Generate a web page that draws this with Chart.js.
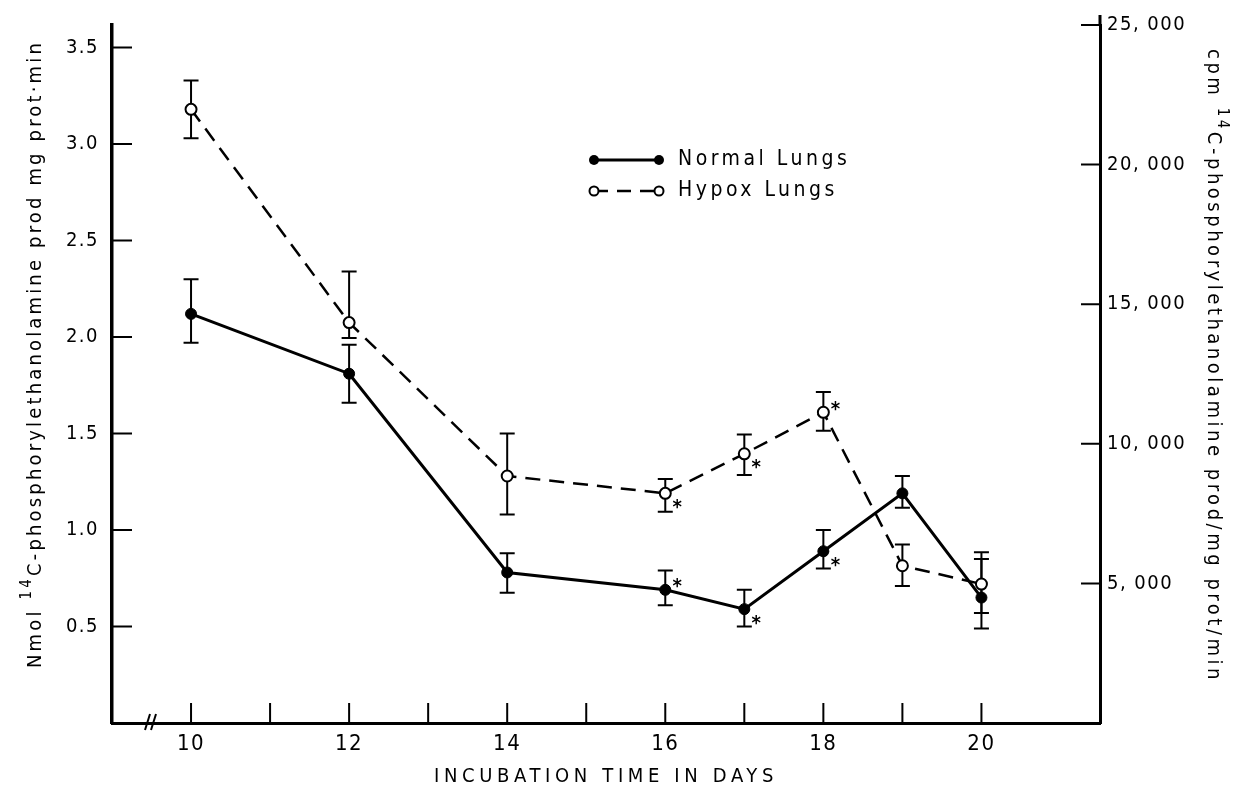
<!DOCTYPE html>
<html><head><meta charset="utf-8">
<script src="https://cdn.jsdelivr.net/npm/chart.js@4.4.1/dist/chart.umd.min.js"></script>
<style>html,body{margin:0;padding:0;background:#fff;}canvas{display:block;}</style>
</head><body>
<canvas id="c" width="1239" height="794"></canvas>
<script>
// ---------------- data ----------------
const days        = [10, 12, 14, 16, 17, 18, 19, 20];
const normalMean  = [2.12, 1.81, 0.78, 0.69, 0.59, 0.89, 1.19, 0.65];
const normalHigh  = [2.30, 1.96, 0.88, 0.79, 0.69, 1.00, 1.28, 0.85];
const normalLow   = [1.97, 1.66, 0.675, 0.61, 0.50, 0.80, 1.115, 0.49];
const hypoxMean   = [3.18, 2.075, 1.28, 1.19, 1.395, 1.61, 0.815, 0.72];
const hypoxHigh   = [3.33, 2.34, 1.50, 1.265, 1.495, 1.715, 0.925, 0.885];
const hypoxLow    = [3.03, 1.995, 1.08, 1.095, 1.285, 1.515, 0.71, 0.57];
const normalSig   = [false, false, false, true, true, true, false, false];
const hypoxSig    = [false, false, false, true, true, true, false, false];
const xTickDays   = [10, 11, 12, 13, 14, 15, 16, 17, 18, 19, 20];
const leftTicks   = [0.5, 1.0, 1.5, 2.0, 2.5, 3.0, 3.5];
const rightTicks  = [5000, 10000, 15000, 20000, 25000];
const seriesNames = ['Normal Lungs', 'Hypox Lungs'];
const xTitle      = 'INCUBATION TIME IN DAYS';
const leftTitle   = [['Nmol ', false], ['14', true], ['C-phosphorylethanolamine prod mg prot\u00b7min', false]];
const rightTitle  = [['cpm ', false], ['14', true], ['C-phosphorylethanolamine prod/mg prot/min', false]];

// ---------------- styling / layout ----------------
const FONT = "'DejaVu Sans Condensed','Liberation Sans Narrow','DejaVu Sans',sans-serif";
const AREA = {left: 112, right: 1100, top: 23, bottom: 723};
const W = 1239, H = 794;
// asterisk placement (style): 'ur' upper-right, 'lr' lower-right
const normalStarPos = [null, null, null, 'ur', 'lr', 'lr', null, null];
const hypoxStarPos  = [null, null, null, 'lr', 'lr', 'ur', null, null];

function spacedText(ctx, parts, size, supSize, supRise, targetLen) {
  ctx.letterSpacing = '0px';
  let w0 = 0, n = 0;
  parts.forEach(([t, sup]) => {
    ctx.font = (sup ? supSize : size) + 'px ' + FONT;
    w0 += ctx.measureText(t).width; n += t.length;
  });
  const sp = Math.max(0, (targetLen - w0) / n);
  let x = -targetLen / 2;
  parts.forEach(([t, sup]) => {
    ctx.font = (sup ? supSize : size) + 'px ' + FONT;
    ctx.letterSpacing = sp + 'px';
    ctx.fillText(t, x, sup ? -supRise : 0);
    x += ctx.measureText(t).width;
  });
  ctx.letterSpacing = '0px';
}

const decor = {
  id: 'decor',
  beforeDraw(chart) {
    const ctx = chart.ctx;
    ctx.fillStyle = '#fff';
    ctx.fillRect(0, 0, W, H);
    ctx.letterSpacing = '1.5px';
  },
  beforeDatasetsDraw(chart) {
    const ctx = chart.ctx, xs = chart.scales.x, ys = chart.scales.y;
    ctx.save();
    ctx.strokeStyle = '#000';
    ctx.lineWidth = 2;
    const bars = (hi, lo) => {
      days.forEach((d, i) => {
        const x = xs.getPixelForValue(d);
        const y1 = ys.getPixelForValue(hi[i]), y2 = ys.getPixelForValue(lo[i]);
        ctx.beginPath();
        ctx.moveTo(x, y1); ctx.lineTo(x, y2);
        ctx.moveTo(x - 7.5, y1); ctx.lineTo(x + 7.5, y1);
        ctx.moveTo(x - 7.5, y2); ctx.lineTo(x + 7.5, y2);
        ctx.stroke();
      });
    };
    bars(normalHigh, normalLow);
    bars(hypoxHigh, hypoxLow);
    ctx.restore();
  },
  afterDraw(chart) {
    const ctx = chart.ctx, xs = chart.scales.x, ys = chart.scales.y, y2s = chart.scales.y2;
    const a = chart.chartArea;
    ctx.save();
    ctx.strokeStyle = '#000';
    ctx.fillStyle = '#000';
    ctx.letterSpacing = '0px';
    // inward tick marks
    ctx.lineWidth = 2;
    ctx.beginPath();
    leftTicks.forEach(v => { const y = ys.getPixelForValue(v); ctx.moveTo(a.left, y); ctx.lineTo(a.left + 20, y); });
    rightTicks.forEach(v => { const y = y2s.getPixelForValue(v); ctx.moveTo(a.right, y); ctx.lineTo(a.right - 19, y); });
    xTickDays.forEach(v => { const x = xs.getPixelForValue(v); ctx.moveTo(x, a.bottom); ctx.lineTo(x, a.bottom - 20); });
    ctx.stroke();
    // right axis overshoot above top tick
    ctx.lineWidth = 3;
    ctx.beginPath(); ctx.moveTo(a.right, a.top); ctx.lineTo(a.right, a.top - 10); ctx.stroke();
    // axis break "//"
    ctx.lineWidth = 2;
    ctx.beginPath();
    ctx.moveTo(145, a.bottom + 7); ctx.lineTo(150, a.bottom - 9);
    ctx.moveTo(151, a.bottom + 7); ctx.lineTo(156, a.bottom - 9);
    ctx.stroke();

    // asterisks
    const starSize = 20;
    ctx.font = 'bold ' + starSize + 'px ' + FONT;
    ctx.textAlign = 'center';
    ctx.textBaseline = 'alphabetic';
    const stars = (mean, sig, pos) => {
      days.forEach((d, i) => {
        if (!sig[i]) return;
        const x = xs.getPixelForValue(d), y = ys.getPixelForValue(mean[i]);
        const dx = 12, dy = pos[i] === 'ur' ? -9 : 8;
        ctx.fillText('*', x + dx, y + dy + 0.58 * starSize);
      });
    };
    stars(normalMean, normalSig, normalStarPos);
    stars(hypoxMean, hypoxSig, hypoxStarPos);

    // legend
    const lx0 = 594, lx1 = 659, ly0 = 160, ly1 = 191, tx = 678;
    ctx.lineWidth = 3; ctx.setLineDash([]);
    ctx.beginPath(); ctx.moveTo(lx0, ly0); ctx.lineTo(lx1, ly0); ctx.stroke();
    [lx0, lx1].forEach(x => { ctx.beginPath(); ctx.arc(x, ly0, 5, 0, Math.PI * 2); ctx.fill(); });
    ctx.lineWidth = 2.5; ctx.setLineDash([14, 9]);
    ctx.beginPath(); ctx.moveTo(lx0, ly1); ctx.lineTo(lx1, ly1); ctx.stroke();
    ctx.setLineDash([]); ctx.lineWidth = 2; ctx.fillStyle = '#fff';
    [lx0, lx1].forEach(x => { ctx.beginPath(); ctx.arc(x, ly1, 4.5, 0, Math.PI * 2); ctx.fill(); ctx.stroke(); });
    ctx.fillStyle = '#000';
    ctx.font = '21px ' + FONT;
    ctx.textAlign = 'left'; ctx.textBaseline = 'middle';
    ctx.letterSpacing = '3.5px';
    ctx.fillText(seriesNames[0], tx, ly0);
    ctx.fillText(seriesNames[1], tx, ly1);
    ctx.letterSpacing = '0px';

    // axis titles
    ctx.textAlign = 'left'; ctx.textBaseline = 'middle';
    ctx.save();
    ctx.translate((a.left + a.right) / 2, 777);
    spacedText(ctx, [[xTitle, false]], 20, 13, 0, 344);
    ctx.restore();
    ctx.save();
    ctx.translate(36, 354);
    ctx.rotate(-Math.PI / 2);
    spacedText(ctx, leftTitle, 20, 15, 9, 628);
    ctx.restore();
    ctx.save();
    ctx.translate(1213, 366);
    ctx.rotate(Math.PI / 2);
    spacedText(ctx, rightTitle, 20, 15, 9, 634);
    ctx.restore();
    ctx.restore();
  }
};

new Chart(document.getElementById('c'), {
  type: 'line',
  data: {
    datasets: [
      {
        label: seriesNames[0],
        data: days.map((d, i) => ({x: d, y: normalMean[i]})),
        yAxisID: 'y',
        borderColor: '#000', borderWidth: 3,
        pointRadius: 5.5, pointBackgroundColor: '#000', pointBorderColor: '#000', pointBorderWidth: 1,
        tension: 0
      },
      {
        label: seriesNames[1],
        data: days.map((d, i) => ({x: d, y: hypoxMean[i]})),
        yAxisID: 'y',
        borderColor: '#000', borderWidth: 2.5, borderDash: [15, 9],
        pointRadius: 5.5, pointBackgroundColor: '#fff', pointBorderColor: '#000', pointBorderWidth: 2,
        tension: 0
      }
    ]
  },
  options: {
    responsive: false, animation: false, devicePixelRatio: 1,
    layout: {padding: {left: 0, right: 0, top: AREA.top, bottom: 0}},
    plugins: {legend: {display: false}, tooltip: {enabled: false}},
    scales: {
      x: {
        type: 'linear', position: 'bottom', min: 9, max: 21.5,
        afterBuildTicks: s => { s.ticks = xTickDays.map(v => ({value: v})); },
        afterFit: s => { s.height = H - AREA.bottom; },
        grid: {display: false, drawTicks: false},
        border: {display: true, color: '#000', width: 3},
        ticks: {autoSkip: false, maxRotation: 0, padding: 8, color: '#000',
                font: {family: FONT, size: 22},
                callback: v => (v % 2 === 0 ? String(v) : '')}
      },
      y: {
        type: 'linear', position: 'left', min: 0, max: 3.617,
        afterBuildTicks: s => { s.ticks = leftTicks.map(v => ({value: v})); },
        afterFit: s => { s.width = AREA.left; },
        grid: {display: false, drawTicks: false},
        border: {display: true, color: '#000', width: 3.5},
        ticks: {padding: 13, color: '#000', font: {family: FONT, size: 20},
                callback: v => v.toFixed(1)}
      },
      y2: {
        type: 'linear', position: 'right', min: 0, max: 25000,
        afterBuildTicks: s => { s.ticks = rightTicks.map(v => ({value: v})); },
        afterFit: s => { s.width = W - AREA.right; },
        grid: {display: false, drawTicks: false},
        border: {display: true, color: '#000', width: 3},
        ticks: {padding: 7, color: '#000', font: {family: FONT, size: 20},
                callback: v => Math.floor(v / 1000) + ', 000'}
      }
    }
  },
  plugins: [decor]
});
</script>
</body></html>
